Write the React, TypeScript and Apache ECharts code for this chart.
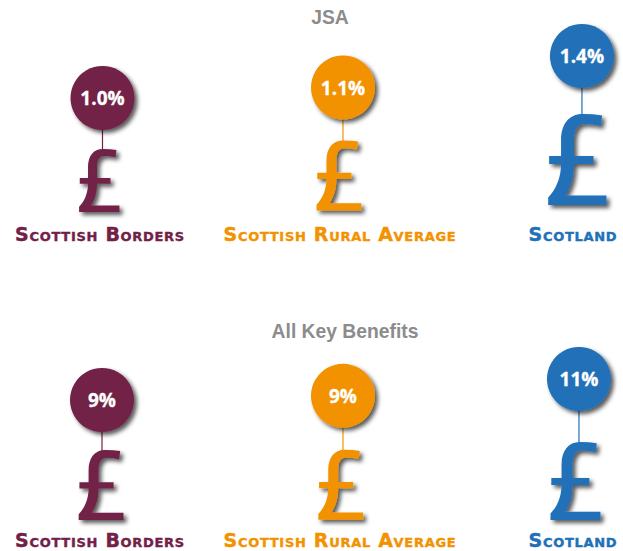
import React, { useEffect, useRef } from "react";
import * as echarts from "echarts";

const categories = ["Scottish Borders", "Scottish Rural Average", "Scotland"];
const colors = ["#722047", "#F29200", "#2071B8"];
const panelTitles = ["JSA", "All Key Benefits"];
const jsaValues = [1.0, 1.1, 1.4];
const benefitValues = [9.0, 9.4, 11.0];
const jsaDigits = 1;
const benefitDigits = 0;

// Layout of pound glyphs, relative to bubble centre: [top offset, height, left fraction]
const jsaGlyphs = [[51, 63, 0.58], [53, 70, 0.59], [58, 91, 0.58]];
const benefitGlyphs = [[50, 70, 0.52], [54, 70, 0.55], [63, 78, 0.57]];
const labelDx = [-2, -2, -9];
const bubbleDx = [[0.5, 1, 0], [0, 1, -3]];
const labelY = [234, 540];

const POUND =
  "M113 3 Q95 0 72 0 C43 0 27 22 27 55 L27 88 L2 88 L2 105 L27 105 C27 135 15 160 0 175 L0 191 L122 191 L122 171 L36 171 C49 150 54 130 54 105 L95 105 L95 88 L54 88 L54 55 C54 36 60 21 76 21 C90 21 100 23 110 25 Z";

const makeRender = (panel: number, glyphs: number[][], digits: number) => (params: any, api: any) => {
  const i = api.value(0);
  const v = api.value(1);
  const [x0, cy] = api.coord([i, v]);
  const cx = x0 + bubbleDx[panel][i];
  const color = colors[i];
  const [top, h, frac] = glyphs[i];
  const w = h * 0.64;
  const gy = cy + top;
  const shadow = { shadowBlur: 4, shadowColor: "rgba(0,0,0,0.65)", shadowOffsetX: 3, shadowOffsetY: 3 };
  return {
    type: "group",
    children: [
      { type: "line", shape: { x1: cx, y1: cy, x2: cx, y2: gy + 2 }, style: { stroke: color, lineWidth: 1.2 } },
      {
        type: "path",
        shape: { pathData: POUND, layout: "cover", x: cx - w * frac, y: gy, width: w, height: h },
        style: { fill: color, ...shadow },
      },
      { type: "circle", shape: { cx, cy, r: 32 }, style: { fill: color, ...shadow } },
      {
        type: "text",
        style: {
          text: v.toFixed(digits) + "%",
          x: cx,
          y: cy,
          fill: "#fff",
          stroke: "#fff",
          lineWidth: 0.3,
          font: "bold 19px 'Open Sans'",
          textAlign: "center",
          textVerticalAlign: "middle",
        },
      },
      {
        type: "text",
        style: {
          text: categories[i],
          x: x0 + labelDx[i],
          y: labelY[panel],
          fill: color,
          stroke: color,
          lineWidth: 0.4,
          font: "bold 19px 'DejaVu Sans'",
          textAlign: "center",
          textVerticalAlign: "middle",
        },
      },
    ],
  };
};

const series = (panel: number, values: number[], glyphs: number[][], digits: number) => ({
  type: "custom",
  xAxisIndex: panel,
  yAxisIndex: panel,
  clip: false,
  renderItem: makeRender(panel, glyphs, digits),
  encode: { x: 0, y: 1 },
  data: values.map((v, i) => [i, v]),
});

export default function App() {
  const ref = useRef<HTMLDivElement>(null);
  useEffect(() => {
    const chart = echarts.init(ref.current!, undefined, { renderer: "svg" });
    const titleStyle = { color: "#8c8c8c", fontSize: 19.3, fontWeight: "bold" as const, fontFamily: "'Liberation Sans'" };
    const hiddenX = (gridIndex: number) => ({ type: "value" as const, gridIndex, min: -0.425, max: 2.171, show: false });
    chart.setOption({
      animation: false,
      backgroundColor: "#fff",
      title: [
        { text: panelTitles[0], left: 330, top: 8, textAlign: "center", padding: 0, textStyle: titleStyle },
        { text: panelTitles[1], left: 345, top: 322, textAlign: "center", padding: 0, textStyle: titleStyle },
      ],
      grid: [
        { left: 0, width: 623, top: 3.5, height: 199.5 },
        { left: 0, width: 623, top: 295, height: 199.5 },
      ],
      xAxis: [hiddenX(0), hiddenX(1)],
      yAxis: [
        { type: "value", gridIndex: 0, min: 0, max: 1.9, show: false },
        { type: "value", gridIndex: 1, min: 0, max: 19, show: false },
      ],
      series: [
        series(0, jsaValues, jsaGlyphs, jsaDigits),
        series(1, benefitValues, benefitGlyphs, benefitDigits),
      ],
    });
    return () => chart.dispose();
  }, []);
  return (
    <>
      <style>{`html,body{margin:0;background:#fff} svg text[style*="DejaVu"]{font-variant:small-caps !important;letter-spacing:0.7px;}`}</style>
      <div ref={ref} style={{ position: "absolute", left: 0, top: 0, width: 623, height: 551 }} />
    </>
  );
}
